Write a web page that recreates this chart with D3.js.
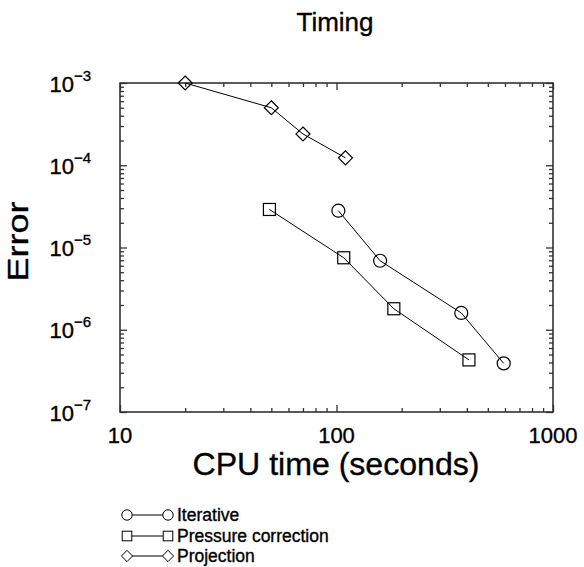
<!DOCTYPE html>
<html><head><meta charset="utf-8">
<script src="https://cdn.jsdelivr.net/npm/d3@7"></script>
<style>body{margin:0;background:#fff}svg{display:block}text{font-family:"Liberation Sans",Arial,sans-serif;fill:#000;stroke:#000;stroke-width:0.35px}</style>
</head><body>
<svg id="c" width="584" height="567"></svg>
<script>
const seriesNames = ["Iterative", "Pressure correction", "Projection"];
const iterativeTime = [102, 159, 377, 592];
const iterativeError = [2.8e-5, 6.9e-6, 1.6e-6, 3.9e-7];
const pressureTime = [49, 108, 184, 409];
const pressureError = [2.9e-5, 7.5e-6, 1.8e-6, 4.3e-7];
const projectionTime = [20, 50, 70, 110];
const projectionError = [1.0e-3, 5.0e-4, 2.4e-4, 1.23e-4];
const xTicks = [10, 100, 1000];
const xTickLabels = ["10", "100", "1000"];
const yTicks = [1e-3, 1e-4, 1e-5, 1e-6, 1e-7];
const yTickExponents = ["\u22123", "\u22124", "\u22125", "\u22126", "\u22127"];
const title = "Timing";
const xTitle = "CPU time (seconds)";
const yTitle = "Error";

const L = 120, R = 553, T = 83, B = 412;
const svg = d3.select("#c");
const x = d3.scaleLog().domain([10, 1000]).range([L, R]);
const y = d3.scaleLog().domain([1e-7, 1e-3]).range([B, T]);

const minorX = [];
for (let d = 10; d < 1000; d *= 10) for (let k = 2; k <= 9; k++) minorX.push(d * k);
const minorY = [];
for (let d = 1e-7; d < 1e-3 * 0.99; d *= 10) for (let k = 2; k <= 9; k++) minorY.push(d * k);

const axColor = "#333";
function styleAx(g){ g.select(".domain").remove(); g.selectAll("line").attr("stroke", axColor).attr("stroke-width", 1.3); g.selectAll("text").remove(); }

svg.append("g").attr("transform", `translate(0,${B})`).call(d3.axisBottom(x).tickValues(xTicks).tickSize(-7).tickFormat("")).call(styleAx);
svg.append("g").attr("transform", `translate(0,${B})`).call(d3.axisBottom(x).tickValues(minorX).tickSize(-4).tickFormat("")).call(styleAx);
svg.append("g").attr("transform", `translate(0,${T})`).call(d3.axisTop(x).tickValues(xTicks).tickSize(-7).tickFormat("")).call(styleAx);
svg.append("g").attr("transform", `translate(0,${T})`).call(d3.axisTop(x).tickValues(minorX).tickSize(-4).tickFormat("")).call(styleAx);
svg.append("g").attr("transform", `translate(${L},0)`).call(d3.axisLeft(y).tickValues(yTicks).tickSize(-7).tickFormat("")).call(styleAx);
svg.append("g").attr("transform", `translate(${L},0)`).call(d3.axisLeft(y).tickValues(minorY).tickSize(-4).tickFormat("")).call(styleAx);
svg.append("g").attr("transform", `translate(${R},0)`).call(d3.axisRight(y).tickValues(yTicks).tickSize(-7).tickFormat("")).call(styleAx);
svg.append("g").attr("transform", `translate(${R},0)`).call(d3.axisRight(y).tickValues(minorY).tickSize(-4).tickFormat("")).call(styleAx);

svg.append("rect").attr("x", L).attr("y", T).attr("width", R - L).attr("height", B - T)
  .attr("fill", "none").attr("stroke", axColor).attr("stroke-width", 1.6);

// tick labels
svg.selectAll(".xl").data(xTicks).enter().append("text")
  .attr("x", d => x(d)).attr("y", 443).attr("text-anchor", "middle").attr("font-size", 22)
  .text((d, i) => xTickLabels[i]);
const yl = svg.selectAll(".yl").data(yTicks).enter().append("text")
  .attr("x", 91).attr("y", d => y(d) + 8.5).attr("text-anchor", "end").attr("font-size", 22);
yl.append("tspan").text("10");
yl.append("tspan").attr("dy", -11).attr("font-size", 15).text((d, i) => yTickExponents[i]);

// titles
svg.append("text").attr("x", 335).attr("y", 31).attr("text-anchor", "middle").attr("font-size", 26).text(title);
svg.append("text").attr("x", 336).attr("y", 475).attr("text-anchor", "middle").attr("font-size", 31)
  .attr("textLength", 287).attr("lengthAdjust", "spacingAndGlyphs").text(xTitle);
svg.append("text").attr("transform", `translate(28,${(T + B) / 2 - 6}) rotate(-90)`).attr("text-anchor", "middle").attr("font-size", 29)
  .attr("textLength", 80).attr("lengthAdjust", "spacingAndGlyphs").text(yTitle);

// series
const series = [
  {name: seriesNames[0], t: iterativeTime, e: iterativeError, sym: "circle"},
  {name: seriesNames[1], t: pressureTime, e: pressureError, sym: "square"},
  {name: seriesNames[2], t: projectionTime, e: projectionError, sym: "diamond"}
];
function marker(g, sym, cx, cy, s) {
  if (sym === "circle") g.append("circle").attr("cx", cx).attr("cy", cy).attr("r", 6.5*s);
  else if (sym === "square") g.append("rect").attr("x", cx - 6*s).attr("y", cy - 6*s).attr("width", 12*s).attr("height", 12*s);
  else g.append("path").attr("d", `M${cx},${cy-7*s}L${cx+7*s},${cy}L${cx},${cy+7*s}L${cx-7*s},${cy}Z`);
}
const line = d3.line().x(d => x(d[0])).y(d => y(d[1]));
series.forEach(s => {
  const pts = s.t.map((v, i) => [v, s.e[i]]);
  svg.append("path").attr("d", line(pts)).attr("fill", "none").attr("stroke", "#000").attr("stroke-width", 1);
  const g = svg.append("g").attr("fill", "none").attr("stroke", "#000").attr("stroke-width", 1.2);
  pts.forEach(p => marker(g, s.sym, x(p[0]), y(p[1]), 1));
});

// legend
const legY = [515, 536, 556];
series.forEach((s, i) => {
  const ly = legY[i];
  svg.append("line").attr("x1", 127).attr("x2", 168).attr("y1", ly).attr("y2", ly).attr("stroke", "#000").attr("stroke-width", 1);
  const g = svg.append("g").attr("fill", "#fff").attr("stroke", "#000").attr("stroke-width", 1);
  marker(g, s.sym, 127, ly, 0.8);
  marker(g, s.sym, 168, ly, 0.8);
  svg.append("text").attr("x", 177).attr("y", ly + 6).attr("font-size", 17.5).text(s.name);
});
</script>
</body></html>
